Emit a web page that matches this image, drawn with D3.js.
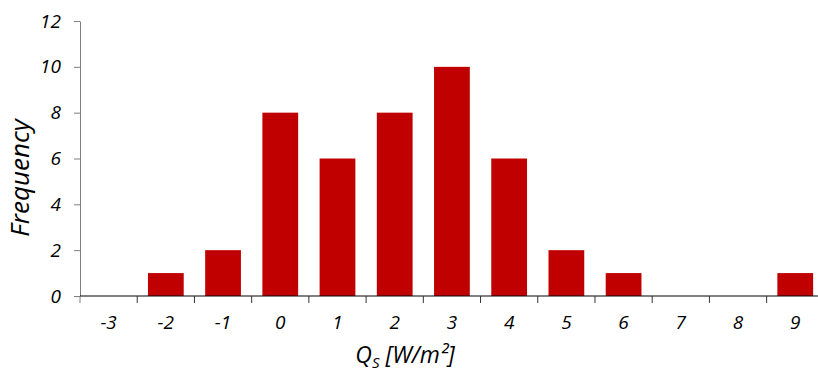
<!DOCTYPE html>
<html>
<head>
<meta charset="utf-8">
<script src="https://cdn.jsdelivr.net/npm/d3@7"></script>
<style>
  body { margin: 0; background: #fff; }
  text { font-family: "Open Sans", sans-serif; font-style: italic; fill: #000; }
</style>
</head>
<body>
<svg id="chart" width="818" height="372"></svg>
<script>
// histogram of Q_S values
const categories = ["-3", "-2", "-1", "0", "1", "2", "3", "4", "5", "6", "7", "8", "9"];
const frequency = [0, 1, 2, 8, 6, 8, 10, 6, 2, 1, 0, 0, 1];
const yTicks = [0, 2, 4, 6, 8, 10, 12];

const margin = { top: 21, left: 80 },
    plotH = 296 - margin.top,
    plotW = 57.22 * categories.length;

const svg = d3.select("#chart");
const g = svg.append("g").attr("transform", `translate(${margin.left},${margin.top})`);

const x = d3.scaleBand()
    .domain(categories)
    .range([0, plotW])
    .paddingInner(0.375)
    .paddingOuter(0.1875);

const y = d3.scaleLinear()
    .domain([0, 12])
    .range([plotH, 0]);

// bars
g.selectAll(".bar")
    .data(categories)
    .enter()
    .append("rect")
    .attr("class", "bar")
    .attr("x", d => x(d))
    .attr("width", x.bandwidth())
    .attr("y", (d, i) => y(frequency[i]))
    .attr("height", (d, i) => plotH - y(frequency[i]))
    .attr("fill", "#C00000");

// y axis
const yAxis = g.append("g")
    .call(d3.axisLeft(y).tickValues(yTicks).tickSize(6).tickPadding(13).tickSizeOuter(0));
yAxis.select(".domain").attr("stroke", "#7f7f7f");
yAxis.selectAll(".tick line").attr("stroke", "#7f7f7f");
yAxis.selectAll("text").style("font-size", "19px").attr("fill", "#000");

// x axis: ticks sit between categories
const xAxisG = g.append("g").attr("transform", `translate(0,${plotH})`);
xAxisG.append("line")
    .attr("x1", 0).attr("x2", plotW)
    .attr("stroke", "#000").attr("stroke-width", 1.2);
const step = x.step();
xAxisG.selectAll(".xtick")
    .data(d3.range(categories.length + 1))
    .enter()
    .append("line")
    .attr("x1", i => i * step).attr("x2", i => i * step)
    .attr("y1", 0).attr("y2", 7)
    .attr("stroke", i => i === 0 ? "#7f7f7f" : "#333");
xAxisG.selectAll(".xlabel")
    .data(categories)
    .enter()
    .append("text")
    .attr("x", d => x(d) + x.bandwidth() / 2)
    .attr("y", 33)
    .attr("text-anchor", "middle")
    .style("font-size", "19px")
    .text(d => d);

// axis titles
svg.append("text")
    .attr("transform", "translate(29,178) rotate(-90)")
    .attr("text-anchor", "middle")
    .style("font-size", "26px")
    .text("Frequency");

const xt = svg.append("text")
    .attr("x", 405)
    .attr("y", 363)
    .attr("text-anchor", "middle")
    .style("font-size", "23px");
xt.append("tspan").text("Q");
xt.append("tspan").attr("dy", 5).style("font-size", "15px").text("S");
xt.append("tspan").attr("dy", -5).text(" [W/m²]");
</script>
</body>
</html>
